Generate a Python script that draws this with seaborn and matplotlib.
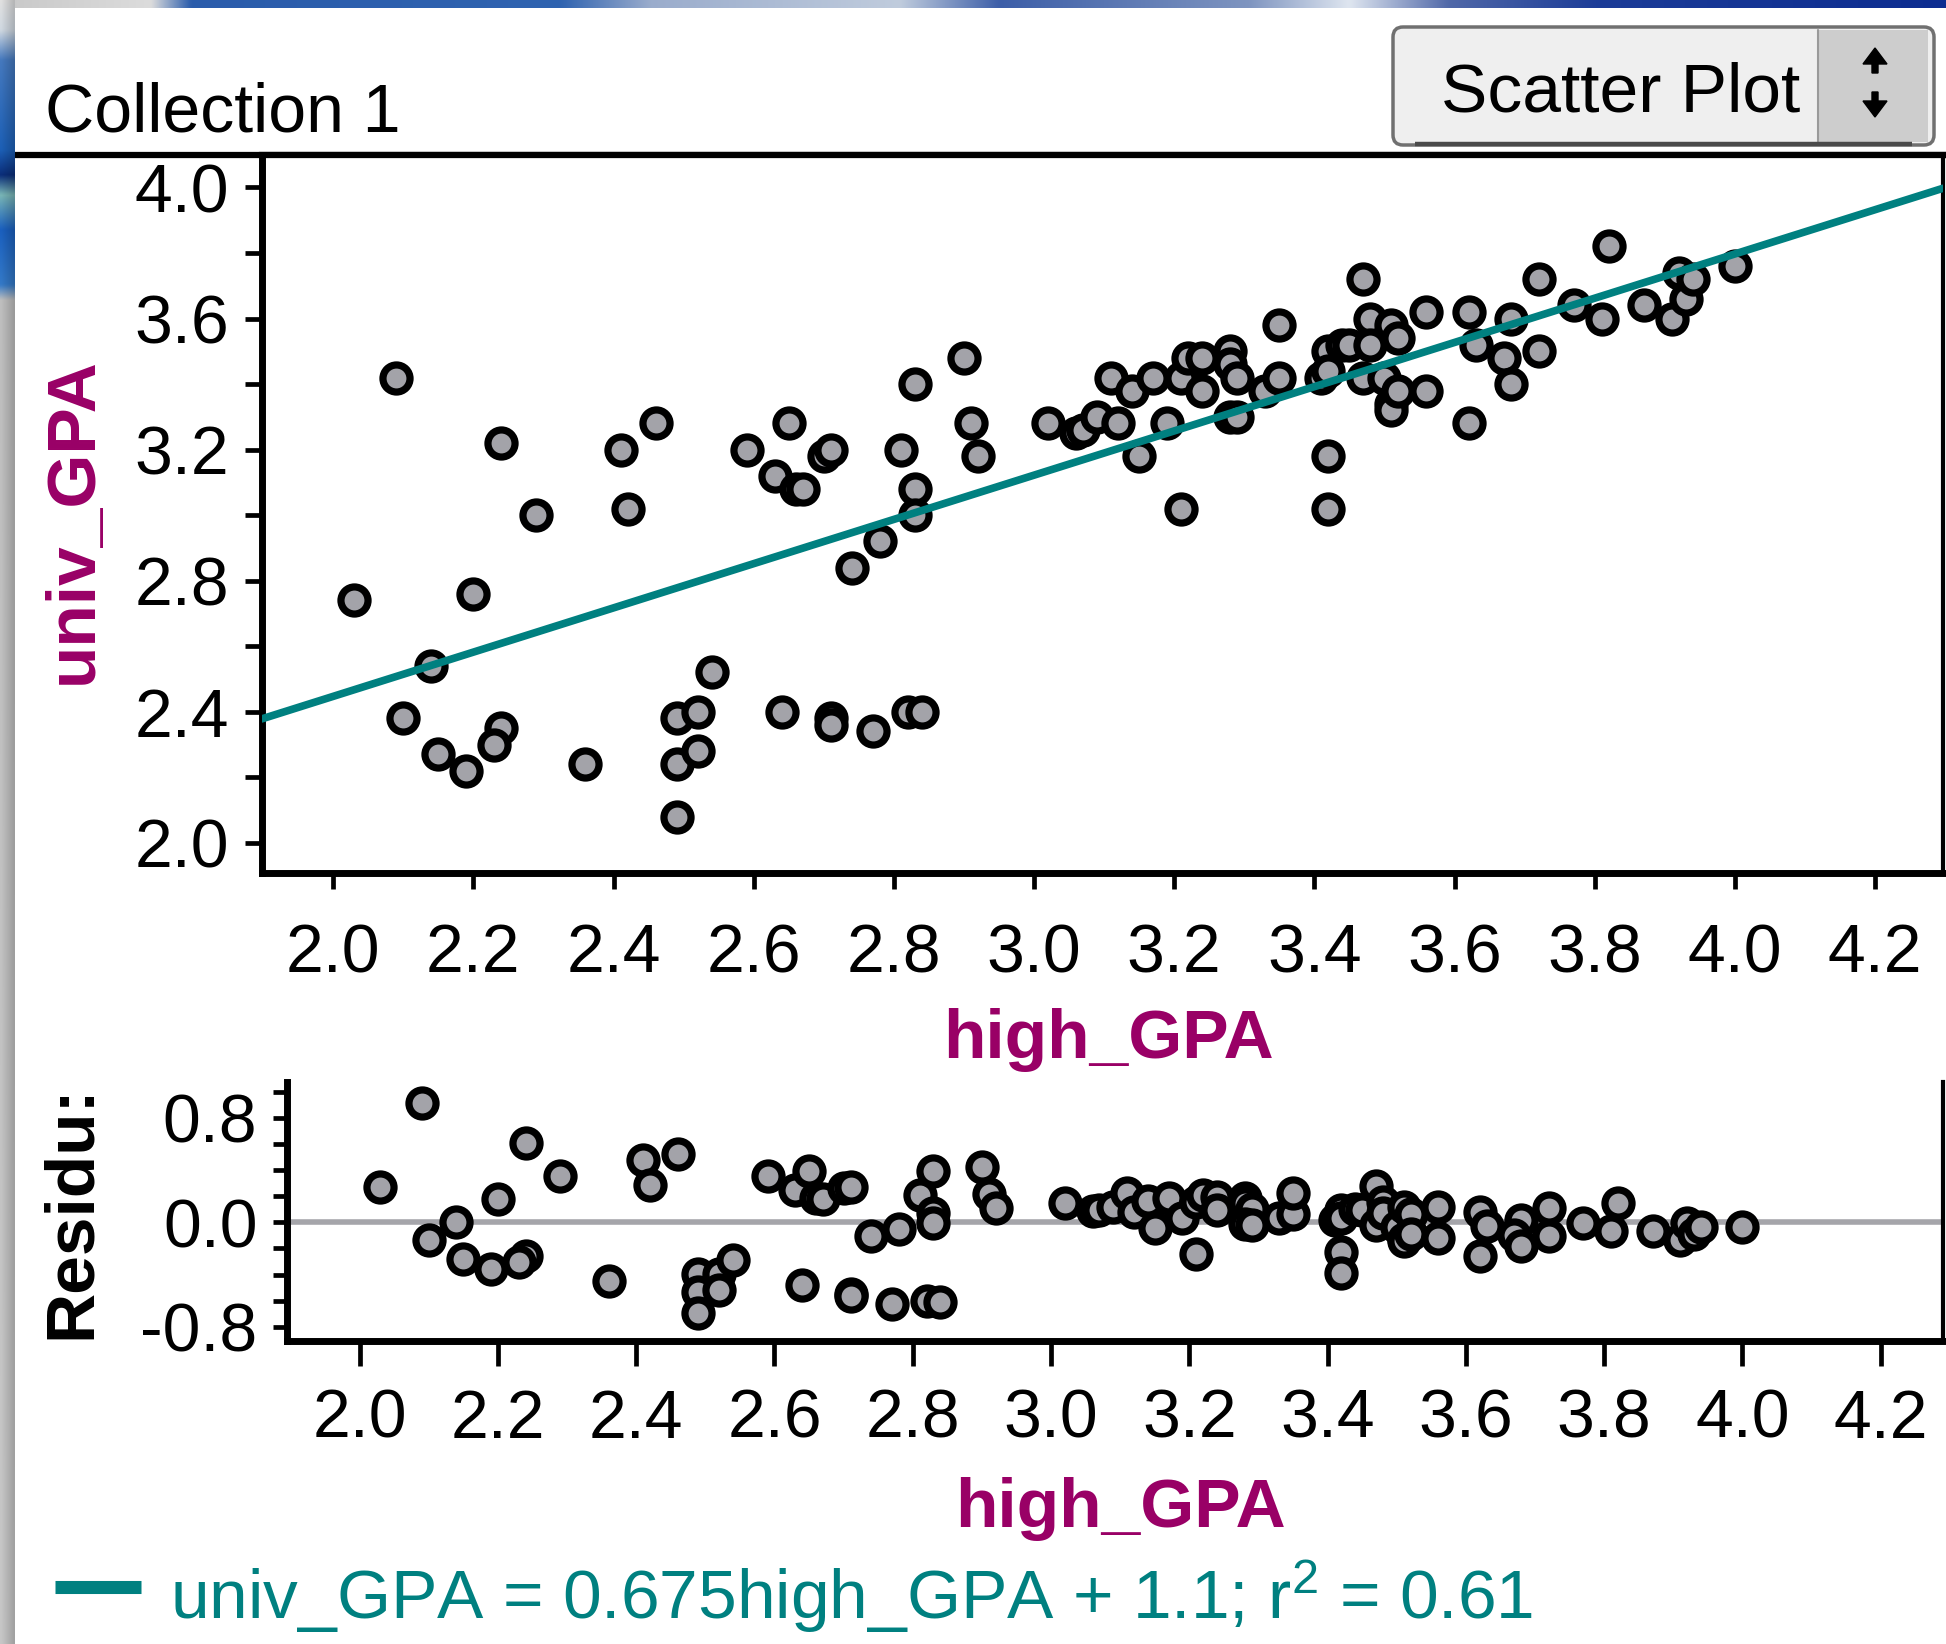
import numpy as np
import pandas as pd
import matplotlib
matplotlib.use("Agg")
import matplotlib.pyplot as plt
import seaborn as sns
from matplotlib.patches import FancyBboxPatch, Rectangle, Polygon
from matplotlib.lines import Line2D
from matplotlib.ticker import FixedLocator, MultipleLocator

# ---------------- data ----------------
high_gpa = [2.03, 2.09, 2.14, 2.10, 2.15, 2.20, 2.19, 2.24, 2.24, 2.23,
            2.29, 2.36, 2.41, 2.46, 2.42, 2.49, 2.49, 2.49, 2.52, 2.52,
            2.54, 2.59, 2.63, 2.65, 2.66, 2.67, 2.64, 2.70, 2.71, 2.71,
            2.71, 2.74, 2.77, 2.78, 2.81, 2.83, 2.83, 2.83, 2.82, 2.84,
            2.90, 2.91, 2.92, 3.02, 3.06, 3.07, 3.09, 3.11, 3.12, 3.14,
            3.15, 3.17, 3.19, 3.21, 3.21, 3.22, 3.24, 3.24, 3.28, 3.28,
            3.29, 3.28, 3.29, 3.33, 3.35, 3.35, 3.41, 3.42, 3.42, 3.42,
            3.42, 3.44, 3.45, 3.47, 3.47, 3.48, 3.48, 3.50, 3.51, 3.51,
            3.51, 3.52, 3.52, 3.56, 3.56, 3.62, 3.63, 3.62, 3.68, 3.67,
            3.68, 3.72, 3.72, 3.77, 3.81, 3.82, 3.87, 3.91, 3.92, 3.93,
            3.94, 4.00]
univ_gpa = [2.74, 3.42, 2.54, 2.38, 2.27, 2.76, 2.22, 3.22, 2.35, 2.30,
            3.00, 2.24, 3.20, 3.28, 3.02, 2.38, 2.24, 2.08, 2.40, 2.28,
            2.52, 3.20, 3.12, 3.28, 3.08, 3.08, 2.40, 3.18, 3.20, 2.38,
            2.36, 2.84, 2.34, 2.92, 3.20, 3.40, 3.08, 3.00, 2.40, 2.40,
            3.48, 3.28, 3.18, 3.28, 3.25, 3.26, 3.30, 3.42, 3.28, 3.38,
            3.18, 3.42, 3.28, 3.42, 3.02, 3.48, 3.48, 3.38, 3.50, 3.46,
            3.42, 3.30, 3.30, 3.38, 3.42, 3.58, 3.42, 3.50, 3.44, 3.18,
            3.02, 3.52, 3.52, 3.72, 3.42, 3.60, 3.52, 3.42, 3.58, 3.34,
            3.32, 3.54, 3.38, 3.62, 3.38, 3.62, 3.52, 3.28, 3.60, 3.48,
            3.40, 3.72, 3.50, 3.64, 3.60, 3.82, 3.64, 3.60, 3.74, 3.66,
            3.72, 3.76]
slope = 0.675
intercept = 1.097
slope_label = "0.675"
intercept_label = "1.1"
r_squared_label = "0.61"

x_ticks = [2.0, 2.2, 2.4, 2.6, 2.8, 3.0, 3.2, 3.4, 3.6, 3.8, 4.0, 4.2]
y_ticks = [2.0, 2.4, 2.8, 3.2, 3.6, 4.0]
res_ticks = [-0.8, 0.0, 0.8]

df = pd.DataFrame({"high_GPA": high_gpa, "univ_GPA": univ_gpa})
df["Residual"] = df["univ_GPA"] - (slope * df["high_GPA"] + intercept)

# ---------------- style ----------------
sns.set_theme(style="white")
plt.rcParams["font.family"] = ["Liberation Sans", "DejaVu Sans"]
plt.rcParams["mathtext.fontset"] = "custom"
plt.rcParams["mathtext.rm"] = "Liberation Sans"
plt.rcParams["mathtext.it"] = "Liberation Sans:italic"
plt.rcParams["mathtext.bf"] = "Liberation Sans:bold"
plt.rcParams["mathtext.default"] = "regular"

TEAL = "#008080"
MAGENTA = "#990066"
DOT = "#a3a3a9"
DOT_S = 380
DOT_LW = 5.2

W, H = 1946, 1644
fig = plt.figure(figsize=(W / 100, H / 100), dpi=100)
fig.patch.set_facecolor("white")


def fx(px):
    return px / W


def fy(py):
    return 1 - py / H


# ---------------- background (window chrome) ----------------
bg = fig.add_axes([0, 0, 1, 1], zorder=-10)
bg.set_xlim(0, W)
bg.set_ylim(H, 0)
bg.axis("off")


def hex2rgb(h):
    h = h.lstrip("#")
    return [int(h[i:i + 2], 16) / 255 for i in (0, 2, 4)]


def gradient(stops, n):
    pos = np.array([s[0] for s in stops], float)
    cols = np.array([hex2rgb(s[1]) for s in stops])
    grid = np.linspace(pos[0], pos[-1], n)
    return np.stack([np.interp(grid, pos, cols[:, k]) for k in range(3)], -1)


top_stops = [(0, "#c8c8c8"), (150, "#dcdcdc"), (190, "#2a5cab"), (560, "#2f63b0"),
             (650, "#9aaccc"), (900, "#c0ccdd"), (1000, "#3c5ea8"), (1250, "#7f95c0"),
             (1350, "#dfe6f0"), (1450, "#5068a8"), (1600, "#1c3c98"), (1946, "#0c2c90")]
top = gradient(top_stops, 600)[None, :, :]
bg.imshow(top, extent=(0, W, 8, 0), aspect="auto", interpolation="bilinear")

left_stops = [(0, "#d0d0d0"), (30, "#c0c8d0"), (60, "#4070b0"), (150, "#1a58a8"),
              (175, "#0a2a70"), (195, "#70a8a8"), (230, "#1858b0"), (285, "#3070b8"),
              (300, "#b0b0b0"), (1644, "#b8b8b8")]
col = gradient(left_stops, 800)
shade = np.linspace(1.08, 0.88, 6)
left = np.clip(col[:, None, :] * shade[None, :, None], 0, 1)
bg.imshow(left, extent=(0, 15, H, 0), aspect="auto", interpolation="bilinear")
bg.set_xlim(0, W)
bg.set_ylim(H, 0)

# header separator
bg.add_line(Line2D([15, W], [155, 155], lw=4.5, color="black", solid_capstyle="butt"))

# header text
fig.text(fx(45), fy(131), "Collection 1", fontsize=49, ha="left", va="baseline", color="black")

# dropdown button
btn = FancyBboxPatch((1393, 27), 541, 118, boxstyle="round,pad=0,rounding_size=10",
                     facecolor="#efefef", edgecolor="#707070", lw=2.5)
bg.add_patch(btn)
bg.add_patch(Rectangle((1818, 30), 110, 112, facecolor="#cdcdcd", edgecolor="none"))
bg.add_line(Line2D([1818, 1818], [30, 142], lw=1.5, color="#9a9a9a"))
bg.add_line(Line2D([1415, 1912], [144, 144], lw=3.2, color="#4a4a4a", solid_capstyle="butt"))
bg.add_patch(Polygon([(1875, 48), (1887, 64), (1878, 64), (1878, 73), (1872, 73),
                      (1872, 64), (1863, 64)], closed=True, color="black"))
bg.add_patch(Polygon([(1872, 92), (1878, 92), (1878, 101), (1887, 101), (1875, 117),
                      (1863, 101), (1872, 101)], closed=True, color="black"))
fig.text(fx(1441), fy(112), "Scatter Plot", fontsize=50, ha="left", va="baseline", color="black")

# ---------------- main scatter plot ----------------
ax = fig.add_axes([fx(261.7), fy(873), fx(1943) - fx(261.7), (873 - 155) / H])
sns.scatterplot(data=df, x="high_GPA", y="univ_GPA", ax=ax, s=DOT_S, color=DOT,
                edgecolor="black", linewidth=DOT_LW, legend=False, zorder=3, clip_on=False)
for coll in ax.collections:
    coll.set_linewidths(DOT_LW)
    coll.set_edgecolors("black")
ax.axline((0, intercept), slope=slope, color=TEAL, lw=5.5, zorder=4)
ax.set_xlim(1.898, 4.297)
ax.set_ylim(1.908, 4.099)
ax.xaxis.set_major_locator(FixedLocator(x_ticks))
ax.set_xticklabels([f"{t:.1f}" for t in x_ticks])
ax.yaxis.set_major_locator(FixedLocator(y_ticks))
ax.set_yticklabels([f"{t:.1f}" for t in y_ticks])
ax.yaxis.set_minor_locator(MultipleLocator(0.2))
ax.tick_params(axis="y", which="both", direction="out", length=12, width=3.4,
               pad=11.5, labelsize=49, left=True, colors="black")
ax.tick_params(axis="x", which="both", direction="out", length=11.5, width=3.4,
               pad=24, labelsize=49, bottom=True, colors="black")
ax.set_xlabel("")
ax.set_ylabel("")
for side, lw in [("left", 5), ("bottom", 5), ("right", 3), ("top", 4.5)]:
    ax.spines[side].set_visible(True)
    ax.spines[side].set_linewidth(lw)
    ax.spines[side].set_color("black")
ax.set_facecolor("white")

fig.text(fx(1108), fy(1058), "high_GPA", fontsize=50, fontweight="bold",
         color=MAGENTA, ha="center", va="baseline")
fig.text(fx(74), fy(521), "univ_GPA", fontsize=50, fontweight="bold",
         color=MAGENTA, ha="center", va="center", rotation=90)

# ---------------- residual plot ----------------
ax2 = fig.add_axes([fx(287), fy(1340.7), fx(1943) - fx(287), (1340.7 - 1081.7) / H])
ax2.axhline(0, color="#a5a5aa", lw=4, zorder=2)
sns.scatterplot(data=df, x="high_GPA", y="Residual", ax=ax2, s=DOT_S, color=DOT,
                edgecolor="black", linewidth=DOT_LW, legend=False, zorder=3, clip_on=False)
for coll in ax2.collections:
    coll.set_linewidths(DOT_LW)
    coll.set_edgecolors("black")
ax2.set_xlim(1.895, 4.29)
ax2.set_ylim(-0.907, 1.077)
ax2.xaxis.set_major_locator(FixedLocator(x_ticks))
ax2.set_xticklabels([f"{t:.1f}" for t in x_ticks])
ax2.yaxis.set_major_locator(FixedLocator(res_ticks))
ax2.set_yticklabels([f"{t:.1f}" for t in res_ticks])
ax2.yaxis.set_minor_locator(MultipleLocator(0.2))
ax2.tick_params(axis="y", which="both", direction="out", length=10.3, width=3.4,
                pad=11, labelsize=49, left=True, colors="black")
ax2.tick_params(axis="x", which="both", direction="out", length=18, width=3.4,
                pad=16, labelsize=49, bottom=True, colors="black")
ax2.set_xlabel("")
ax2.set_ylabel("")
for side, lw in [("left", 5), ("bottom", 5), ("right", 3)]:
    ax2.spines[side].set_visible(True)
    ax2.spines[side].set_linewidth(lw)
    ax2.spines[side].set_color("black")
ax2.spines["top"].set_visible(False)
ax2.set_facecolor("white")

fig.text(fx(1120), fy(1527), "high_GPA", fontsize=50, fontweight="bold",
         color=MAGENTA, ha="center", va="baseline")
fig.text(fx(72), fy(1212), "Residu:", fontsize=50, fontweight="bold",
         color="black", ha="center", va="center", rotation=90)

# ---------------- legend ----------------
fig.add_artist(Line2D([fx(55), fx(141)], [fy(1586.5), fy(1586.5)], lw=9.4,
                      color=TEAL, solid_capstyle="butt", transform=fig.transFigure))
legend_text = f"univ_GPA = {slope_label}high_GPA + {intercept_label}; r$^{{2}}$ = {r_squared_label}"
fig.text(fx(170), fy(1619), legend_text, fontsize=50, color=TEAL, ha="left", va="baseline")

fig.savefig("out.png", dpi=100)
